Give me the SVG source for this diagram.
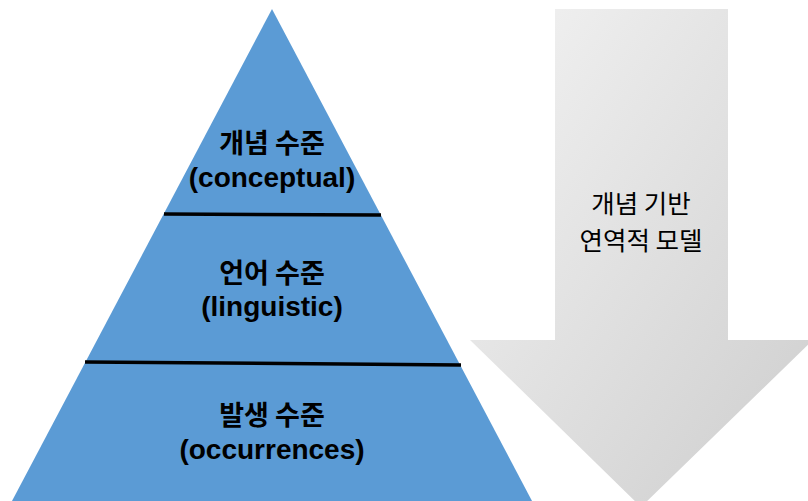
<svg xmlns="http://www.w3.org/2000/svg" width="808" height="501" viewBox="0 0 808 501">
<defs>
<linearGradient id="gray" x1="0" y1="0" x2="1" y2="1">
<stop offset="0" stop-color="#f3f3f3"/>
<stop offset="1" stop-color="#cdcdcd"/>
</linearGradient>
<style>
.lvl{font-family:"Noto Sans CJK KR","Liberation Sans",sans-serif;font-weight:bold;font-size:27px;fill:#000;text-anchor:middle}
.en{font-family:"Liberation Sans","Noto Sans CJK KR",sans-serif;font-weight:bold;font-size:28px;fill:#000;text-anchor:middle}
.arr{font-family:"Noto Sans CJK KR","Liberation Sans",sans-serif;font-size:25.5px;fill:#000;text-anchor:middle}
.sep{stroke:#000;stroke-width:3.5;fill:none}
</style>
</defs>
<rect width="808" height="501" fill="#fff"/>
<g id="arrow">
<polygon points="555,9 728,9 728,340 813,340 641,507 470,340 555,340" fill="url(#gray)"/>
<text class="arr" x="641" y="213">개념 기반</text>
<text class="arr" x="641" y="250">연역적 모델</text>
</g>
<g id="pyramid">
<polygon points="272,9 532,501 12,501" fill="#5b9bd5"/>
</g>
<g id="connectors">
<line class="sep" x1="164" y1="214" x2="381" y2="215"/>
<line class="sep" x1="85" y1="362" x2="461" y2="365"/>
</g>
<g id="level-conceptual">
<text class="lvl" x="272" y="153">개념 수준</text>
<text class="en" x="272" y="187">(conceptual)</text>
</g>
<g id="level-linguistic">
<text class="lvl" x="272" y="283">언어 수준</text>
<text class="en" x="272" y="316">(linguistic)</text>
</g>
<g id="level-occurrences">
<text class="lvl" x="272" y="425">발생 수준</text>
<text class="en" x="272" y="459">(occurrences)</text>
</g>
</svg>
